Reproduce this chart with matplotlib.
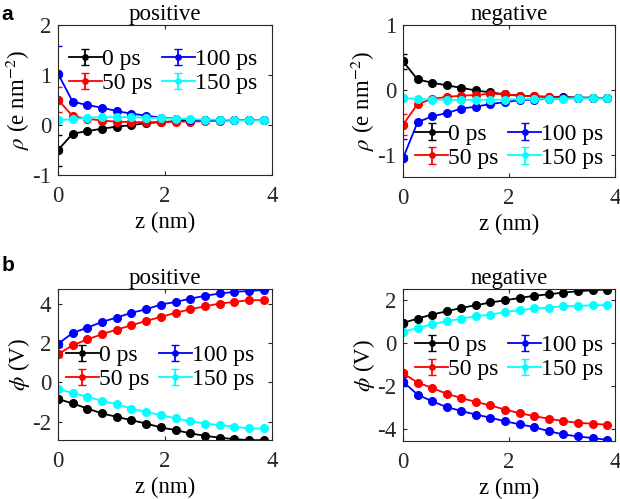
# 电荷密度与电势分布 (a: rho, b: phi)
from matplotlib import pyplot as plt
from matplotlib.container import ErrorbarContainer
from matplotlib.legend_handler import HandlerErrorbar
import numpy as np

plt.rcParams['font.family'] = ['Liberation Serif', 'DejaVu Serif']
plt.rcParams['mathtext.fontset'] = 'stix'
plt.rcParams['axes.unicode_minus'] = False
plt.rcParams['font.size'] = 16

# z 坐标 (nm)
z = [0.0, 0.275, 0.55, 0.825, 1.1, 1.375, 1.65, 1.925, 2.2, 2.475, 2.75, 3.025, 3.3, 3.575, 3.85]

labels = ['0 ps', '50 ps', '100 ps', '150 ps']
colors = ['black', 'red', 'blue', 'cyan']

# a: 正电极 rho
rho_pos_0 = [-0.5, -0.17, -0.12, -0.07, -0.03, 0.0, 0.04, 0.06, 0.08, 0.09, 0.1, 0.1, 0.1, 0.1, 0.1]
rho_pos_50 = [0.51, 0.18, 0.13, 0.09, 0.07, 0.06, 0.06, 0.06, 0.07, 0.07, 0.08, 0.09, 0.1, 0.1, 0.1]
rho_pos_100 = [1.03, 0.47, 0.4, 0.35, 0.28, 0.23, 0.19, 0.15, 0.13, 0.11, 0.1, 0.1, 0.1, 0.1, 0.1]
rho_pos_150 = [0.1, 0.12, 0.15, 0.16, 0.16, 0.16, 0.15, 0.14, 0.13, 0.12, 0.11, 0.11, 0.1, 0.1, 0.1]
rho_pos_err = [0.31, 0.25, 0.55, 0.03]

# a: 负电极 rho
rho_neg_0 = [0.44, 0.16, 0.11, 0.07, 0.03, -0.01, -0.04, -0.07, -0.09, -0.1, -0.11, -0.11, -0.12, -0.12, -0.13]
rho_neg_50 = [-0.54, -0.22, -0.14, -0.11, -0.09, -0.08, -0.06, -0.07, -0.09, -0.1, -0.11, -0.12, -0.12, -0.13, -0.13]
rho_neg_100 = [-1.06, -0.5, -0.41, -0.36, -0.29, -0.26, -0.22, -0.19, -0.16, -0.15, -0.14, -0.13, -0.13, -0.13, -0.13]
rho_neg_150 = [-0.13, -0.14, -0.15, -0.155, -0.155, -0.155, -0.155, -0.15, -0.145, -0.14, -0.14, -0.135, -0.13, -0.13, -0.13]
rho_neg_err = [0.12, 0.16, 0.3, 0.03]

# b: 正电极 phi
phi_pos_0 = [-0.84, -1.06, -1.32, -1.57, -1.74, -1.91, -2.08, -2.28, -2.41, -2.58, -2.7, -2.8, -2.87, -2.92, -2.92]
phi_pos_50 = [1.43, 1.89, 2.18, 2.45, 2.68, 2.9, 3.12, 3.32, 3.53, 3.71, 3.86, 4.0, 4.08, 4.17, 4.17]
phi_pos_100 = [1.95, 2.51, 2.78, 3.07, 3.29, 3.53, 3.71, 3.95, 4.08, 4.25, 4.39, 4.51, 4.59, 4.64, 4.68]
phi_pos_150 = [-0.35, -0.52, -0.73, -0.93, -1.11, -1.32, -1.49, -1.65, -1.82, -1.96, -2.08, -2.16, -2.24, -2.33, -2.33]
phi_pos_err = [0.05, 0.12, 0.15, 0.05]

# b: 负电极 phi
phi_neg_0 = [0.93, 1.13, 1.32, 1.47, 1.63, 1.75, 1.88, 1.98, 2.09, 2.19, 2.26, 2.34, 2.4, 2.45, 2.48]
phi_neg_50 = [-1.41, -1.84, -2.09, -2.36, -2.56, -2.74, -2.9, -3.1, -3.26, -3.4, -3.52, -3.63, -3.71, -3.75, -3.8]
phi_neg_100 = [-1.8, -2.4, -2.71, -2.98, -3.16, -3.33, -3.47, -3.64, -3.78, -3.91, -4.1, -4.25, -4.34, -4.42, -4.5]
phi_neg_150 = [0.51, 0.7, 0.87, 1.01, 1.13, 1.24, 1.32, 1.44, 1.52, 1.6, 1.64, 1.71, 1.72, 1.75, 1.75]
phi_neg_err = [0.05, 0.12, 0.2, 0.05]


def draw_panel(ax, series, errs, title, ylabel, ylim, yticks, legend_anchor):
    """画一个子图"""
    for data, err, c, lab in zip(series, errs, colors, labels):
        yerr = [err] + [0.0] * (len(z) - 1)
        ax.errorbar(z, data, yerr=yerr, errorevery=len(z), color=c, lw=1.3,
                    marker='o', ms=5.5, capsize=3, elinewidth=1.3, label=lab)
        # 第一个点是空心圆
        ax.plot(z[0], data[0], 'o', ms=5.5, mfc='white', mec=c, mew=1.3)
    ax.set_xlim(0, 4)
    ax.set_ylim(*ylim)
    ax.set_xticks([0, 2, 4])
    ax.set_yticks(yticks)
    ax.tick_params(direction='in', top=True, right=True, length=3, colors='#262626',
                   labelsize=16.5)
    ax.tick_params(axis='x', pad=8)
    ax.tick_params(axis='y', pad=5)
    for s in ax.spines.values():
        s.set_color('#262626')
    ax.set_title(title, fontsize=16.5, pad=4)
    ax.set_xlabel('z (nm)', fontsize=16.5, labelpad=3)
    ax.set_ylabel(ylabel, fontsize=16.5, labelpad=0)
    ax.legend(ncol=2, frameon=False, loc='center right', bbox_to_anchor=legend_anchor,
              handlelength=1.4, handletextpad=0.0, columnspacing=0.4, labelspacing=0.1,
              borderaxespad=0, fontsize=17, markerscale=0.7,
              handler_map={ErrorbarContainer: HandlerErrorbar(yerr_size=0.35)})


fig = plt.figure(figsize=(6.2, 4.99), dpi=100)
ax1 = fig.add_axes([0.0935, 0.649, 0.345, 0.3006])
ax2 = fig.add_axes([0.65, 0.645, 0.342, 0.3046])
ax3 = fig.add_axes([0.0935, 0.118, 0.345, 0.3026])
ax4 = fig.add_axes([0.65, 0.116, 0.342, 0.3046])

rho_label = r'$\rho$ (e nm$^{-2}$)'
phi_label = r'$\phi$ (V)'

draw_panel(ax1, [rho_pos_0, rho_pos_50, rho_pos_100, rho_pos_150], rho_pos_err,
           'positive', rho_label, (-1, 2), [-1, 0, 1, 2], (0.975, 0.69))
draw_panel(ax2, [rho_neg_0, rho_neg_50, rho_neg_100, rho_neg_150], rho_neg_err,
           'negative', rho_label, (-1.35, 1), [-1, 0, 1], (0.99, 0.205))
draw_panel(ax3, [phi_pos_0, phi_pos_50, phi_pos_100, phi_pos_150], phi_pos_err,
           'positive', phi_label, (-2.92, 4.73), [-2, 0, 2, 4], (0.96, 0.48))
draw_panel(ax4, [phi_neg_0, phi_neg_50, phi_neg_100, phi_neg_150], phi_neg_err,
           'negative', phi_label, (-4.56, 2.5), [-4, -2, 0, 2], (0.99, 0.55))

fig.text(0.003, 0.99, 'a', fontsize=15, fontweight='bold', family='Liberation Sans', va='top')
fig.text(0.003, 0.487, 'b', fontsize=15, fontweight='bold', family='Liberation Sans', va='top')

plt.savefig('out.png', dpi=100)
